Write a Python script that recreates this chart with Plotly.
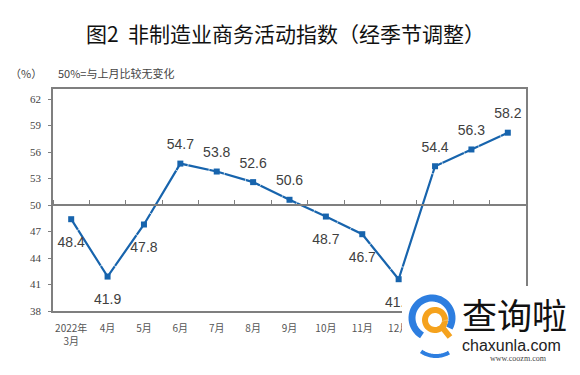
import numpy as np
import plotly.graph_objects as go

# ---- data ----
categories = ["2022年<br>3月", "4月", "5月", "6月", "7月", "8月", "9月", "10月", "11月", "12月",
              "2023年<br>1月", "2月", "3月"]
values = [48.4, 41.9, 47.8, 54.7, 53.8, 52.6, 50.6, 48.7, 46.7, 41.6, 54.4, 56.3, 58.2]
label_side = ["bottom", "bottom", "bottom", "top", "top", "top", "top", "bottom", "bottom", "bottom",
              "top", "top", "top"]
y_ticks = [38, 41, 44, 47, 50, 53, 56, 59, 62]

W, H = 580, 375
ML, MR, MT, MB = 53, 54, 89, 64
PW, PH = W - ML - MR, H - MT - MB
YMIN, YMAX = 38, 63.15


def X(px):
    return (px - ML) / PW


def Y(py):
    return (H - MB - py) / PH


LINE = "#1764ad"
GRAY = "#7f7f7f"
xs = list(range(len(values)))

fig = go.Figure()
fig.add_trace(go.Scatter(
    x=xs, y=values, mode="lines+markers",
    line=dict(color=LINE, width=2.2),
    marker=dict(symbol="square", size=6, color=LINE),
    showlegend=False, hoverinfo="skip",
))
# value labels (invisible spacer markers push the text away from the points)
fig.add_trace(go.Scatter(
    x=xs, y=values, mode="markers+text",
    marker=dict(size=[16 if s == "top" else 26 for s in label_side], color="rgba(0,0,0,0)"),
    text=[f"{v:g}" for v in values], textposition=[f"{s} center" for s in label_side],
    textfont=dict(family="Liberation Sans, Arial", size=14, color="#404040"),
    cliponaxis=False, showlegend=False, hoverinfo="skip",
))
# dummy trace for the 50% reference axis
fig.add_trace(go.Scatter(x=[], y=[], xaxis="x2", yaxis="y", showlegend=False))

pos50 = (50 - YMIN) / (YMAX - YMIN)

fig.update_layout(
    width=W, height=H, margin=dict(l=ML, r=MR, t=MT, b=MB),
    paper_bgcolor="white", plot_bgcolor="white",
    xaxis=dict(range=[-0.5, len(values) - 0.5], tickmode="array",
               tickvals=xs, ticktext=categories,
               showgrid=False, zeroline=False, showline=True, linecolor=GRAY, linewidth=1.5,
               mirror=True, ticks="outside", ticklen=7, tickcolor="rgba(0,0,0,0)",
               tickfont=dict(family="Noto Sans CJK SC", size=10, color="#555")),
    xaxis2=dict(overlaying="x", anchor="free", position=pos50, side="top",
                range=[-0.5, len(values) - 0.5], tickmode="linear", tick0=0.5, dtick=1,
                ticks="outside", ticklen=4, tickcolor=GRAY, tickwidth=1,
                showticklabels=False, showgrid=False, zeroline=False,
                showline=True, linecolor=GRAY, linewidth=1.5),
    yaxis=dict(range=[YMIN, YMAX], tickmode="array", tickvals=y_ticks,
               showgrid=False, zeroline=False, showline=True, linecolor=GRAY, linewidth=1.5,
               mirror=True, ticks="outside", ticklen=3, tickcolor=GRAY, ticklabelstandoff=5,
               tickfont=dict(family="Liberation Serif, Times New Roman", size=11, color="#444")),
)

fig.add_annotation(text="图2  非制造业商务活动指数（经季节调整）", xref="paper", yref="paper",
                   x=X(285), y=Y(33), xanchor="center", yanchor="middle", showarrow=False,
                   font=dict(family="Noto Sans CJK SC", size=21, color="#111"))
fig.add_annotation(text="（%）", xref="paper", yref="paper",
                   x=X(8), y=Y(73), xanchor="left", yanchor="middle", showarrow=False,
                   font=dict(family="Noto Sans CJK SC", size=11, color="#444"))
fig.add_annotation(text="50%=与上月比较无变化", xref="paper", yref="paper",
                   x=X(56), y=Y(73), xanchor="left", yanchor="middle", showarrow=False,
                   font=dict(family="Noto Sans CJK SC", size=11, color="#444"))

# ---- watermark ----
shapes = []
shapes.append(dict(type="rect", xref="paper", yref="paper", x0=X(402), x1=X(580), y0=Y(286), y1=Y(375),
                   fillcolor="white", line=dict(width=0), layer="above"))


def arc(cx, cy, r, a0, a1, n=40):
    a = np.radians(np.linspace(a0, a1, n))
    pts = [(X(cx + r * np.cos(t)), Y(cy - r * np.sin(t))) for t in a]
    return "M " + " L ".join(f"{p[0]:.5f},{p[1]:.5f}" for p in pts)


shapes.append(dict(type="path", xref="paper", yref="paper", path=arc(432, 318, 20, -30, 240),
                   line=dict(color="#2d7ee0", width=7), layer="above"))
shapes.append(dict(type="path", xref="paper", yref="paper", path=arc(436, 330, 26, 235, 300),
                   line=dict(color="#2d7ee0", width=4), layer="above"))
shapes.append(dict(type="path", xref="paper", yref="paper", path=arc(435, 320, 10, 0, 360),
                   line=dict(color="#f5a21d", width=6), layer="above"))
shapes.append(dict(type="line", xref="paper", yref="paper", x0=X(442), y0=Y(327), x1=X(450), y1=Y(337),
                   line=dict(color="#f5a21d", width=6), layer="above"))
fig.update_layout(shapes=shapes)

fig.add_annotation(text="查询啦", xref="paper", yref="paper", x=X(514), y=Y(313),
                   xanchor="center", yanchor="middle", showarrow=False,
                   font=dict(family="Noto Sans CJK SC", size=35, color="#111"))
fig.add_annotation(text="chaxunla.com", xref="paper", yref="paper", x=X(511), y=Y(345),
                   xanchor="center", yanchor="middle", showarrow=False,
                   font=dict(family="Liberation Sans, Arial", size=16, color="#222"))
fig.add_annotation(text="www.coozm.com", xref="paper", yref="paper", x=X(518), y=Y(358),
                   xanchor="center", yanchor="middle", showarrow=False,
                   font=dict(family="Liberation Serif", size=8, color="#444"))

fig.write_html("out.html", config={"displayModeBar": False},
               post_script="document.body.style.margin='0';document.body.style.overflow='hidden';")
